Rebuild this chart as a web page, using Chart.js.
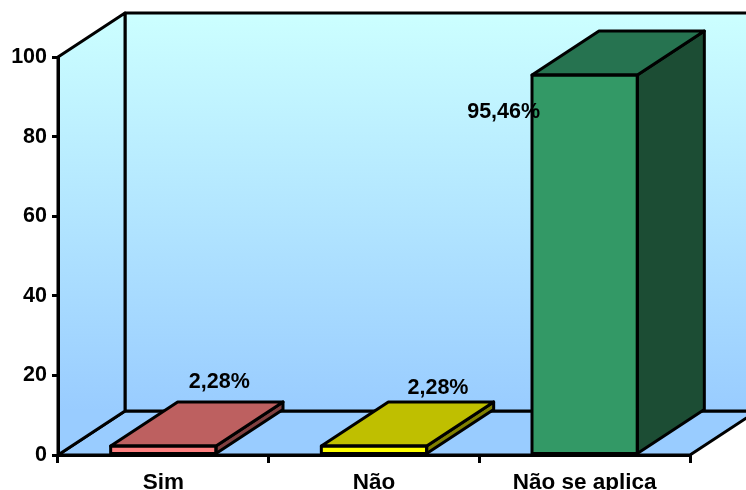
<!DOCTYPE html>
<html>
<head>
<meta charset="utf-8">
<style>
    html, body { margin: 0; padding: 0; background: #fff; overflow: hidden; }
    #grafico { display: block; }
</style>
<script src="https://cdn.jsdelivr.net/npm/chart.js@4/dist/chart.umd.min.js"></script>
</head>
<body>
<canvas id="grafico" width="746" height="490"></canvas>
<script>
const categorias = ['Sim', 'Não', 'Não se aplica'];
const percentuais = [2.28, 2.28, 95.46];
const ticksY = [0, 20, 40, 60, 80, 100];

const coresFrente = ['#ff8080', '#ffff00', '#339966'];
const coresTopo = ['#bd6060', '#bfbf00', '#267350'];
const coresLado = ['#804040', '#808000', '#1c4d34'];

// profundidade do efeito 3D
const depthX = 67;
const depthY = -44;
const familia = '"Liberation Sans", Arial, sans-serif';

function poligono(ctx, pontos, fill) {
    ctx.beginPath();
    pontos.forEach((p, i) => i ? ctx.lineTo(p[0], p[1]) : ctx.moveTo(p[0], p[1]));
    ctx.closePath();
    if (fill) {
        ctx.fillStyle = fill;
        ctx.fill();
    }
    ctx.stroke();
}

// paredes e piso atras das barras
const paredes = {
    id: 'paredes',
    beforeDraw(chart) {
        const { ctx, chartArea: a } = chart;
        const grad = ctx.createLinearGradient(0, a.top + depthY, 0, a.bottom + depthY);
        grad.addColorStop(0, '#ccffff');
        grad.addColorStop(1, '#99ccff');

        ctx.save();
        ctx.lineWidth = 3;
        ctx.strokeStyle = '#000';
        ctx.lineJoin = 'round';

        // piso
        poligono(ctx, [
            [a.left, a.bottom],
            [a.left + depthX, a.bottom + depthY],
            [a.right + depthX, a.bottom + depthY],
            [a.right, a.bottom]
        ], '#99ccff');
        // fundo
        poligono(ctx, [
            [a.left + depthX, a.top + depthY],
            [a.right + depthX, a.top + depthY],
            [a.right + depthX, a.bottom + depthY],
            [a.left + depthX, a.bottom + depthY]
        ], grad);
        // parede esquerda
        poligono(ctx, [
            [a.left, a.top],
            [a.left + depthX, a.top + depthY],
            [a.left + depthX, a.bottom + depthY],
            [a.left, a.bottom]
        ], grad);
        ctx.restore();
    }
};

// faces laterais, topo e rotulos de cada barra
const barras3d = {
    id: 'barras3d',
    afterDatasetsDraw(chart) {
        const { ctx } = chart;
        const barras = chart.getDatasetMeta(0).data;
        const deslocamento = [[56, -64], [64, -58], [-81, 37]];

        ctx.save();
        ctx.lineWidth = 3;
        ctx.strokeStyle = '#000';
        ctx.lineJoin = 'round';

        barras.forEach((bar, i) => {
            const esq = bar.x - bar.width / 2;
            const dir = bar.x + bar.width / 2;
            poligono(ctx, [
                [dir, bar.y],
                [dir + depthX, bar.y + depthY],
                [dir + depthX, bar.base + depthY],
                [dir, bar.base]
            ], coresLado[i]);
            poligono(ctx, [
                [esq, bar.y],
                [esq + depthX, bar.y + depthY],
                [dir + depthX, bar.y + depthY],
                [dir, bar.y]
            ], coresTopo[i]);
            ctx.strokeRect(esq, bar.y, bar.width, bar.base - bar.y);
        });

        ctx.fillStyle = '#000';
        ctx.font = 'bold 21.5px ' + familia;
        ctx.textAlign = 'center';
        ctx.textBaseline = 'middle';
        barras.forEach((bar, i) => {
            const texto = percentuais[i].toFixed(2).replace('.', ',') + '%';
            ctx.fillText(texto, bar.x + deslocamento[i][0], bar.y + deslocamento[i][1]);
        });
        ctx.restore();
    }
};

new Chart(document.getElementById('grafico'), {
    type: 'bar',
    data: {
        labels: categorias,
        datasets: [{
            data: percentuais,
            backgroundColor: coresFrente,
            borderWidth: 0,
            barPercentage: 1,
            categoryPercentage: 0.5
        }]
    },
    options: {
        responsive: false,
        animation: false,
        layout: { padding: { top: 57, right: 56 } },
        plugins: {
            legend: { display: false },
            tooltip: { enabled: false },
            title: { display: false }
        },
        scales: {
            x: {
                afterFit(scale) { scale.height = 35; },
                grid: { drawOnChartArea: false, color: '#000', lineWidth: 3, tickLength: 8 },
                border: { color: '#000', width: 3 },
                ticks: { color: '#000', font: { family: familia, size: 22.5, weight: 'bold' }, padding: 6, maxRotation: 0 }
            },
            y: {
                min: 0,
                max: 100,
                afterFit(scale) { scale.width = 58; },
                afterBuildTicks(scale) { scale.ticks = ticksY.map(v => ({ value: v })); },
                grid: { drawOnChartArea: false, color: '#000', lineWidth: 3, tickLength: 6 },
                border: { color: '#000', width: 3 },
                ticks: { color: '#000', font: { family: familia, size: 21.5, weight: 'bold' }, padding: 5 }
            }
        }
    },
    plugins: [paredes, barras3d]
});
</script>
</body>
</html>
